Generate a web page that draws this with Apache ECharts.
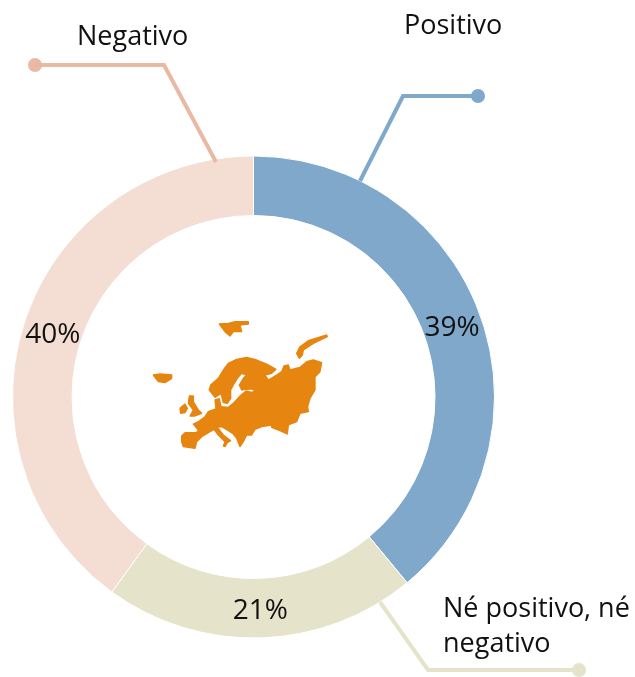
<!DOCTYPE html>
<html><head><meta charset="utf-8">
<style>html,body{margin:0;padding:0;background:#fff}#c{width:635px;height:677px}</style>
<script src="https://cdn.jsdelivr.net/npm/echarts@6/dist/echarts.min.js"></script>
</head><body><div id="c"></div>
<script>
const categories = ['Positivo', 'Né positivo, né\nnegativo', 'Negativo'];
const values = [39, 21, 40];
const colors = ['#7FA8CB', '#E5E3C9', '#F4DDD2'];
const lineColors = ['#7FA8CB', '#E5E3C9', '#E9B9A4'];
const labelOffsets = [[-3,4],[0,0],[3,4]];
const FONT = '"Open Sans","Noto Sans",sans-serif';

const leaders = [
  [[478,96],[403,96],[360,181]],
  [[579,670],[428,670],[380,602]],
  [[35,65],[164,65],[216,162]]
];
const labelAnchors = [
  {x:404, y:26},
  {x:443, y:627},
  {x:77, y:37}
];

// decorative map shapes
const mapMain = [[125,378],[135,368],[170,368],[175,360],[160,342],[175,335],[195,320],[205,305],[228,297],[225,270],[238,266],[243,290],[265,292],[280,280],[300,258],[318,243],[335,247],[346,243],[335,237],[315,238],[305,240],[298,225],[310,205],[320,195],[305,190],[292,205],[280,225],[272,240],[272,265],[262,280],[250,278],[243,250],[225,262],[208,240],[212,225],[235,205],[250,180],[265,160],[290,148],[320,142],[350,150],[380,162],[408,178],[395,190],[375,195],[385,210],[410,195],[425,185],[432,168],[445,165],[450,180],[480,172],[500,155],[520,150],[545,158],[540,185],[525,200],[525,240],[510,265],[503,290],[505,305],[480,310],[470,335],[445,345],[442,372],[420,362],[395,352],[395,345],[365,350],[345,358],[335,375],[320,375],[310,395],[300,410],[290,385],[280,372],[262,360],[245,350],[232,352],[250,375],[272,392],[262,398],[255,410],[250,408],[255,395],[235,375],[222,358],[205,368],[185,380],[170,395],[165,415],[130,410],[125,395]];
const mapIslands = [
  [[470,130],[480,110],[505,92],[560,75],[562,80],[520,100],[490,120],[487,135],[478,145]],
  [[238,42],[265,40],[285,35],[325,35],[325,42],[300,45],[305,65],[280,65],[270,78],[255,65]],
  [[40,195],[60,192],[95,195],[95,205],[75,218],[55,215]],
  [[148,258],[160,258],[160,275],[175,300],[185,310],[165,318],[150,318],[160,300],[145,280]],
  [[120,295],[135,282],[142,295],[135,308],[122,310]]
];

const graphic = [];
const ORANGE = '#E6850F';
const mapStyle = {fill:ORANGE, stroke:ORANGE, lineWidth:4, lineJoin:'round'};
graphic.push({type:'group', x:140, y:310, scaleX:1/3, scaleY:1/3, silent:true, children:[
  {type:'polygon', shape:{points:mapMain}, style:mapStyle},
  ...mapIslands.map(p=>({type:'polygon', shape:{points:p}, style:mapStyle}))
]});
leaders.forEach((pts,i)=>{
  graphic.push({type:'polyline', silent:true, z:10, shape:{points:pts}, style:{stroke:lineColors[i], lineWidth:4, fill:null, lineJoin:'miter'}});
  graphic.push({type:'circle', silent:true, z:10, shape:{cx:pts[0][0], cy:pts[0][1], r:7}, style:{fill:lineColors[i]}});
  graphic.push({type:'text', silent:true, z:11, x:labelAnchors[i].x, y:labelAnchors[i].y,
    style:{text:categories[i], font:'27px '+FONT, fill:'#111', lineHeight:35, verticalAlign:'middle', align:'left'}});
});

const chart = echarts.init(document.getElementById('c'), null, {renderer:'canvas'});
chart.setOption({
  animation:false,
  graphic,
  series:[{
    type:'pie',
    center:[253.5,397],
    radius:[181.5,241],
    startAngle:90,
    clockwise:true,
    silent:true,
    label:{show:true, position:'inside', formatter:'{c}%', fontFamily:FONT, fontSize:28, color:'#111'},
    labelLine:{show:false},
    itemStyle:{borderColor:'#fff', borderWidth:1},
    data:categories.map((n,i)=>({name:n, value:values[i], itemStyle:{color:colors[i]}, label:{offset:labelOffsets[i]}}))
  }]
});
</script></body></html>
